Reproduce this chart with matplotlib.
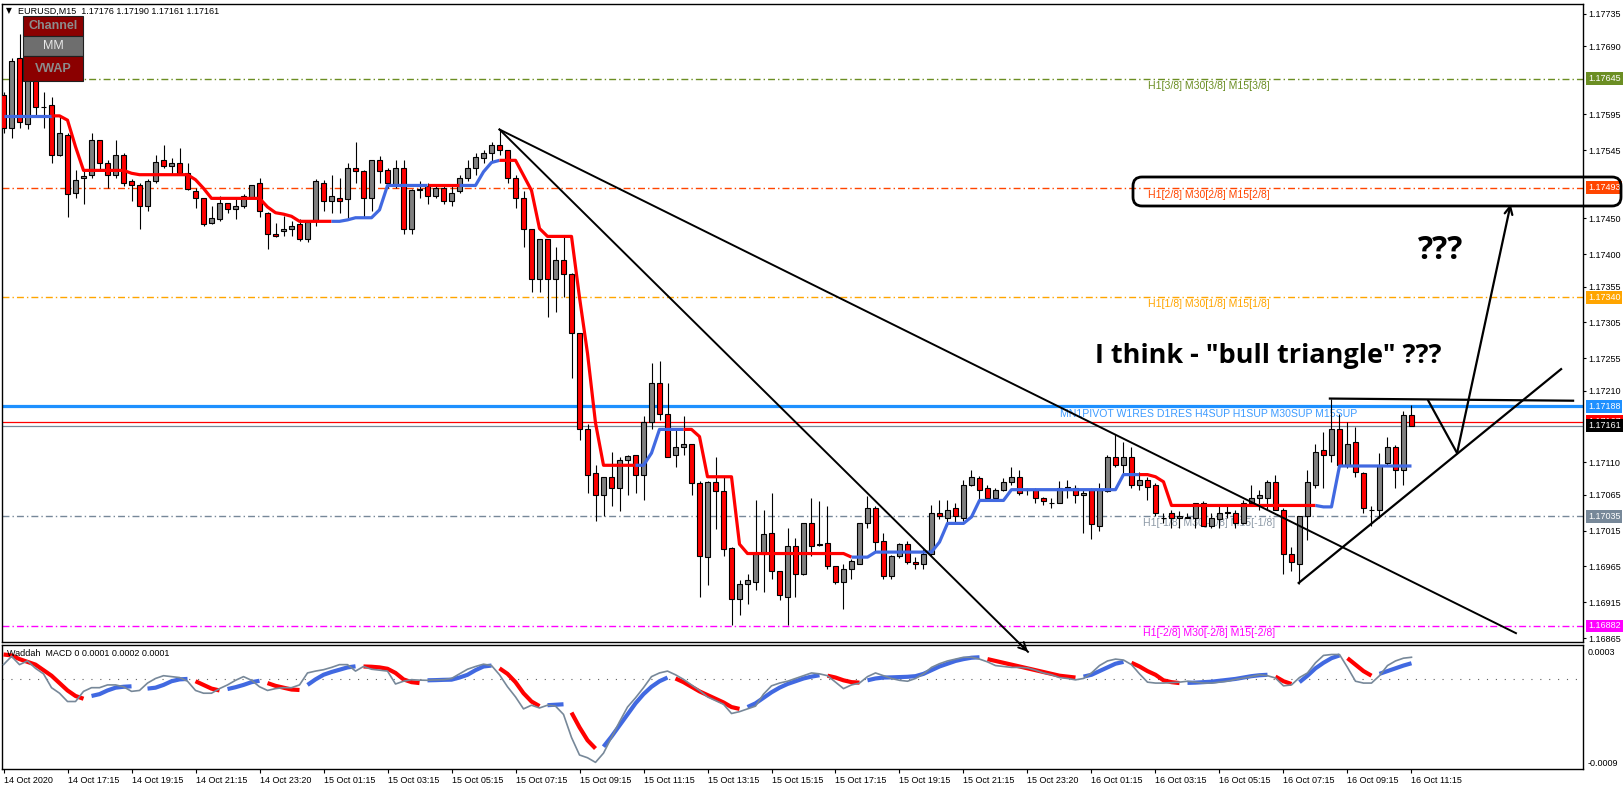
import numpy as np
import matplotlib
matplotlib.use("Agg")
import matplotlib.pyplot as plt
from matplotlib.patches import Rectangle, FancyBboxPatch
from matplotlib.transforms import blended_transform_factory

plt.rcParams['font.family'] = ['Liberation Sans', 'DejaVu Sans']

# EURUSD M15, one bar every 15 min, 14 Oct 15:15 .. 16 Oct 11:15
open_ = [1.17622, 1.17576, 1.17673, 1.17581, 1.17658, 1.17606, 1.17608, 1.17539, 1.17567, 1.17485,
         1.17506, 1.17510, 1.17559, 1.17527, 1.17511, 1.17538, 1.17502, 1.17496, 1.17468, 1.17502,
         1.17531, 1.17523, 1.17527, 1.17513, 1.17488, 1.17478, 1.17443, 1.17449, 1.17471, 1.17463,
         1.17467, 1.17479, 1.17499, 1.17458, 1.17428, 1.17432, 1.17436, 1.17442, 1.17422, 1.17446,
         1.17500, 1.17475, 1.17479, 1.17477, 1.17520, 1.17516, 1.17478, 1.17531, 1.17517, 1.17497,
         1.17520, 1.17435, 1.17491, 1.17495, 1.17481, 1.17492, 1.17475, 1.17488, 1.17507, 1.17520,
         1.17534, 1.17541, 1.17552, 1.17545, 1.17506, 1.17479, 1.17435, 1.17365, 1.17421, 1.17365,
         1.17392, 1.17373, 1.17290, 1.17157, 1.17095, 1.17064, 1.17089, 1.17074, 1.17114, 1.17120,
         1.17092, 1.17167, 1.17220, 1.17177, 1.17120, 1.17132, 1.17135, 1.17081, 1.16978, 1.17082,
         1.17070, 1.16991, 1.16919, 1.16940, 1.16944, 1.16983, 1.17011, 1.16958, 1.16923, 1.16994,
         1.16955, 1.17025, 1.16996, 1.16997, 1.16965, 1.16943, 1.16962, 1.16969, 1.17025, 1.17047,
         1.17001, 1.16951, 1.16979, 1.16996, 1.16971, 1.16969, 1.16983, 1.17040, 1.17033, 1.17046,
         1.17033, 1.17079, 1.17088, 1.17075, 1.17060, 1.17071, 1.17082, 1.17089, 1.17072, 1.17072,
         1.17061, 1.17054, 1.17054, 1.17075, 1.17075, 1.17064, 1.17071, 1.17022, 1.17070, 1.17117,
         1.17106, 1.17117, 1.17078, 1.17086, 1.17078, 1.17033, 1.17040, 1.17032, 1.17033, 1.17033,
         1.17054, 1.17022, 1.17031, 1.17040, 1.17040, 1.17025, 1.17054, 1.17061, 1.17061, 1.17082,
         1.17044, 1.16983, 1.16969, 1.17035, 1.17078, 1.17127, 1.17121, 1.17156, 1.17107, 1.17138,
         1.17095, 1.17043, 1.17043, 1.17109, 1.17131, 1.17100, 1.17176]
high_ = [1.17626, 1.17673, 1.17707, 1.17663, 1.17663, 1.17626, 1.17619, 1.17591, 1.17569, 1.17517,
         1.17516, 1.17569, 1.17560, 1.17531, 1.17559, 1.17541, 1.17505, 1.17499, 1.17505, 1.17538,
         1.17552, 1.17534, 1.17548, 1.17527, 1.17492, 1.17479, 1.17467, 1.17481, 1.17472, 1.17479,
         1.17484, 1.17497, 1.17506, 1.17459, 1.17443, 1.17454, 1.17446, 1.17449, 1.17446, 1.17505,
         1.17503, 1.17511, 1.17506, 1.17527, 1.17556, 1.17517, 1.17532, 1.17537, 1.17520, 1.17532,
         1.17532, 1.17491, 1.17502, 1.17500, 1.17495, 1.17495, 1.17495, 1.17511, 1.17532, 1.17541,
         1.17545, 1.17556, 1.17574, 1.17546, 1.17510, 1.17488, 1.17436, 1.17422, 1.17422, 1.17410,
         1.17426, 1.17374, 1.17291, 1.17164, 1.17106, 1.17090, 1.17124, 1.17117, 1.17121, 1.17121,
         1.17174, 1.17248, 1.17252, 1.17220, 1.17157, 1.17174, 1.17136, 1.17084, 1.17084, 1.17117,
         1.17091, 1.16992, 1.16946, 1.16955, 1.17057, 1.17043, 1.17068, 1.16959, 1.17018, 1.17004,
         1.17026, 1.17060, 1.17056, 1.17049, 1.16966, 1.16968, 1.16976, 1.17026, 1.17063, 1.17049,
         1.17011, 1.16981, 1.16997, 1.17001, 1.16978, 1.16990, 1.17050, 1.17057, 1.17057, 1.17053,
         1.17086, 1.17099, 1.17091, 1.17079, 1.17074, 1.17088, 1.17103, 1.17100, 1.17075, 1.17074,
         1.17062, 1.17061, 1.17084, 1.17085, 1.17079, 1.17071, 1.17075, 1.17081, 1.17121, 1.17150,
         1.17138, 1.17132, 1.17096, 1.17089, 1.17081, 1.17039, 1.17044, 1.17042, 1.17040, 1.17054,
         1.17056, 1.17039, 1.17050, 1.17049, 1.17043, 1.17057, 1.17078, 1.17072, 1.17086, 1.17093,
         1.17046, 1.16992, 1.17036, 1.17100, 1.17135, 1.17152, 1.17198, 1.17177, 1.17167, 1.17159,
         1.17096, 1.17049, 1.17123, 1.17145, 1.17134, 1.17181, 1.17190]
low_ = [1.17569, 1.17562, 1.17576, 1.17574, 1.17594, 1.17576, 1.17527, 1.17537, 1.17452, 1.17478,
        1.17470, 1.17507, 1.17517, 1.17493, 1.17507, 1.17495, 1.17475, 1.17435, 1.17461, 1.17500,
        1.17521, 1.17510, 1.17511, 1.17489, 1.17465, 1.17440, 1.17442, 1.17447, 1.17458, 1.17449,
        1.17464, 1.17478, 1.17452, 1.17407, 1.17424, 1.17425, 1.17426, 1.17418, 1.17417, 1.17440,
        1.17461, 1.17457, 1.17457, 1.17450, 1.17500, 1.17450, 1.17461, 1.17499, 1.17493, 1.17493,
        1.17429, 1.17429, 1.17479, 1.17470, 1.17478, 1.17470, 1.17468, 1.17485, 1.17502, 1.17510,
        1.17527, 1.17530, 1.17538, 1.17499, 1.17464, 1.17410, 1.17348, 1.17348, 1.17312, 1.17320,
        1.17340, 1.17228, 1.17141, 1.17068, 1.17028, 1.17035, 1.17049, 1.17042, 1.17064, 1.17067,
        1.17058, 1.17156, 1.17169, 1.17117, 1.17103, 1.17121, 1.17064, 1.16922, 1.16939, 1.17017,
        1.16979, 1.16884, 1.16897, 1.16913, 1.16932, 1.16930, 1.16948, 1.16918, 1.16884, 1.16922,
        1.16953, 1.16979, 1.16993, 1.16962, 1.16941, 1.16905, 1.16948, 1.16968, 1.17018, 1.16985,
        1.16947, 1.16947, 1.16977, 1.16969, 1.16961, 1.16962, 1.16980, 1.17031, 1.17025, 1.17024,
        1.17029, 1.17077, 1.17057, 1.17056, 1.17056, 1.17070, 1.17079, 1.17065, 1.17064, 1.17054,
        1.17050, 1.17047, 1.17053, 1.17061, 1.17054, 1.17011, 1.17003, 1.17015, 1.17069, 1.17104,
        1.17095, 1.17075, 1.17072, 1.17057, 1.17035, 1.17026, 1.17018, 1.17019, 1.17032, 1.17019,
        1.17021, 1.17018, 1.17018, 1.17032, 1.17018, 1.17024, 1.17051, 1.17044, 1.17043, 1.17043,
        1.16955, 1.16959, 1.16940, 1.17002, 1.17075, 1.17075, 1.17110, 1.17106, 1.17102, 1.17089,
        1.17040, 1.17022, 1.17032, 1.17107, 1.17075, 1.17078, 1.17161]
close_ = [1.17576, 1.17670, 1.17584, 1.17659, 1.17606, 1.17605, 1.17539, 1.17569, 1.17484, 1.17504,
          1.17509, 1.17559, 1.17527, 1.17510, 1.17538, 1.17499, 1.17496, 1.17468, 1.17502, 1.17528,
          1.17523, 1.17527, 1.17513, 1.17491, 1.17478, 1.17442, 1.17450, 1.17472, 1.17463, 1.17467,
          1.17481, 1.17496, 1.17460, 1.17429, 1.17425, 1.17436, 1.17440, 1.17421, 1.17445, 1.17502,
          1.17475, 1.17481, 1.17475, 1.17520, 1.17516, 1.17478, 1.17531, 1.17516, 1.17499, 1.17521,
          1.17435, 1.17489, 1.17490, 1.17481, 1.17492, 1.17475, 1.17486, 1.17507, 1.17520, 1.17535,
          1.17541, 1.17552, 1.17545, 1.17506, 1.17479, 1.17436, 1.17365, 1.17421, 1.17365, 1.17392,
          1.17373, 1.17291, 1.17157, 1.17093, 1.17064, 1.17089, 1.17074, 1.17114, 1.17119, 1.17093,
          1.17167, 1.17221, 1.17177, 1.17118, 1.17131, 1.17135, 1.17081, 1.16979, 1.17082, 1.17070,
          1.16990, 1.16919, 1.16940, 1.16946, 1.16983, 1.17010, 1.16958, 1.16925, 1.16994, 1.16955,
          1.17025, 1.16993, 1.16995, 1.16965, 1.16943, 1.16962, 1.16972, 1.17025, 1.17047, 1.16999,
          1.16951, 1.16980, 1.16996, 1.16971, 1.16968, 1.16983, 1.17040, 1.17035, 1.17044, 1.17035,
          1.17078, 1.17089, 1.17071, 1.17060, 1.17071, 1.17082, 1.17089, 1.17068, 1.17071, 1.17061,
          1.17056, 1.17053, 1.17075, 1.17076, 1.17064, 1.17067, 1.17024, 1.17071, 1.17117, 1.17106,
          1.17117, 1.17078, 1.17086, 1.17076, 1.17040, 1.17032, 1.17032, 1.17035, 1.17034, 1.17053,
          1.17022, 1.17032, 1.17040, 1.17041, 1.17025, 1.17054, 1.17061, 1.17064, 1.17082, 1.17044,
          1.16983, 1.16971, 1.17035, 1.17082, 1.17124, 1.17121, 1.17156, 1.17107, 1.17136, 1.17096,
          1.17046, 1.17044, 1.17107, 1.17131, 1.17100, 1.17176, 1.17161]

# step trend line (value per bar) and its direction: 1 = up (blue), -1 = down (red)
trend_line = [1.17593, 1.17593, 1.17593, 1.17593, 1.17593, 1.17593, 1.17593, 1.17593, 1.17587, 1.17550,
              1.17517, 1.17517, 1.17517, 1.17517, 1.17517, 1.17517, 1.17513, 1.17511, 1.17511, 1.17511,
              1.17511, 1.17511, 1.17511, 1.17511, 1.17504, 1.17492, 1.17478, 1.17478, 1.17478, 1.17478,
              1.17478, 1.17478, 1.17478, 1.17466, 1.17458, 1.17456, 1.17453, 1.17446, 1.17446, 1.17446,
              1.17446, 1.17446, 1.17446, 1.17448, 1.17451, 1.17451, 1.17451, 1.17462, 1.17496, 1.17496,
              1.17496, 1.17496, 1.17496, 1.17496, 1.17496, 1.17496, 1.17496, 1.17496, 1.17496, 1.17496,
              1.17515, 1.17528, 1.17531, 1.17531, 1.17531, 1.17510, 1.17489, 1.17436, 1.17425, 1.17425,
              1.17425, 1.17425, 1.17340, 1.17262, 1.17165, 1.17106, 1.17106, 1.17106, 1.17106, 1.17106,
              1.17106, 1.17123, 1.17156, 1.17156, 1.17156, 1.17156, 1.17156, 1.17146, 1.17090, 1.17090,
              1.17090, 1.17090, 1.16996, 1.16983, 1.16983, 1.16983, 1.16983, 1.16983, 1.16983, 1.16983,
              1.16983, 1.16983, 1.16983, 1.16983, 1.16983, 1.16983, 1.16978, 1.16978, 1.16978, 1.16985,
              1.16985, 1.16985, 1.16985, 1.16985, 1.16985, 1.16985, 1.16985, 1.16999, 1.17025, 1.17025,
              1.17025, 1.17034, 1.17057, 1.17057, 1.17057, 1.17057, 1.17072, 1.17072, 1.17072, 1.17072,
              1.17072, 1.17072, 1.17072, 1.17072, 1.17072, 1.17072, 1.17072, 1.17072, 1.17072, 1.17072,
              1.17093, 1.17093, 1.17093, 1.17093, 1.17090, 1.17083, 1.17050, 1.17050, 1.17050, 1.17050,
              1.17050, 1.17050, 1.17050, 1.17050, 1.17050, 1.17050, 1.17050, 1.17050, 1.17050, 1.17050,
              1.17050, 1.17050, 1.17050, 1.17050, 1.17050, 1.17048, 1.17048, 1.17105, 1.17105, 1.17105,
              1.17105, 1.17105, 1.17105, 1.17105, 1.17105, 1.17105, 1.17105]
trend_dir = [1, 1, 1, 1, 1, 1, 1, -1, -1, -1, -1, -1, -1, -1, -1, -1, -1, -1, -1, -1,
             -1, -1, -1, -1, -1, -1, -1, -1, -1, -1, -1, -1, -1, -1, -1, -1, -1, -1, -1, -1,
             -1, -1, 1, 1, 1, 1, 1, 1, 1, 1, 1, 1, 1, 1, -1, -1, -1, -1, 1, 1,
             1, 1, 1, -1, -1, -1, -1, -1, -1, -1, -1, -1, -1, -1, -1, -1, -1, -1, -1, -1,
             1, 1, 1, 1, 1, 1, -1, -1, -1, -1, -1, -1, -1, -1, -1, -1, -1, -1, -1, -1,
             -1, -1, -1, -1, -1, -1, -1, 1, 1, 1, 1, 1, 1, 1, 1, 1, 1, 1, 1, 1,
             1, 1, 1, 1, 1, 1, 1, 1, 1, 1, 1, 1, 1, 1, 1, 1, 1, 1, 1, 1,
             1, 1, 1, -1, -1, -1, -1, -1, -1, -1, -1, -1, -1, -1, -1, -1, -1, -1, -1, -1,
             -1, -1, -1, -1, -1, 1, 1, 1, 1, 1, 1, 1, 1, 1, 1, 1, 1]

# Waddah MACD, in units of 0.0001
macd_main = [2.7, 2.6, 2.2, 1.9, 1.6, 1.0, 0.4, -0.4, -1.2, -1.8,
             -2.1, -1.8, -1.6, -1.2, -0.9, -0.8, -0.75, -1.05, -1.0, -0.9,
             -0.6, -0.2, 0.0, 0.05, -0.2, -0.6, -1.0, -1.2, -1.05, -0.85,
             -0.6, -0.3, -0.15, -0.4, -0.7, -0.9, -1.1, -1.15, -0.6, 0.0,
             0.5, 0.8, 1.05, 1.3, 1.42, 1.40, 1.37, 1.3, 1.15, 0.7,
             0.0, -0.3, -0.4, -0.1, -0.08, -0.05, -0.03, 0.2, 0.5, 1.0,
             1.4, 1.5, 1.2, 0.6, -0.3, -1.5, -2.4, -2.9, -2.8, -2.75,
             -2.7, -3.6, -5.2, -6.6, -7.5, -7.3, -6.2, -5.0, -3.8, -2.6,
             -1.6, -0.8, -0.2, 0.2, 0.1, -0.3, -0.8, -1.3, -1.7, -2.1,
             -2.5, -3.0, -3.2, -3.0, -2.6, -2.0, -1.4, -0.9, -0.5, -0.2,
             0.1, 0.3, 0.45, 0.4, 0.2, -0.1, -0.3, -0.35, -0.1, 0.1,
             0.2, 0.22, 0.25, 0.28, 0.35, 0.6, 1.0, 1.4, 1.7, 2.0,
             2.2, 2.35, 2.4, 2.2, 2.0, 1.8, 1.6, 1.4, 1.2, 1.0,
             0.8, 0.6, 0.4, 0.3, 0.2, 0.3, 0.5, 0.9, 1.3, 1.7,
             1.9, 1.8, 1.4, 0.9, 0.5, -0.1, -0.3, -0.4, -0.38, -0.35,
             -0.3, -0.25, -0.15, -0.05, 0.05, 0.2, 0.35, 0.45, 0.5, 0.3,
             -0.2, -0.5, -0.3, 0.4, 1.2, 1.8, 2.3, 2.6, 2.3, 1.6,
             0.9, 0.4, 0.6, 0.9, 1.2, 1.5, 1.75]
macd_fast = [1.6, 2.5, 1.6, 2.0, 1.2, 0.6, -0.9, -1.5, -2.4, -2.4,
             -1.3, -0.9, -0.9, -0.6, -0.6, -0.8, -1.3, -1.2, -0.4, 0.1,
             0.4, 0.3, 0.2, -0.2, -1.2, -1.5, -1.5, -1.0, -0.6, -0.1,
             0.3, -0.1, -0.8, -1.2, -1.0, -0.9, -0.9, -0.6, 0.7, 0.9,
             1.05, 1.3, 1.6, 1.6, 0.9, 1.4, 1.1, 1.0, 0.9, -0.5,
             -0.2, -0.03, -0.08, -0.1, -0.05, -0.03, 0.1, 0.6, 1.1, 1.4,
             1.65, 1.5, 0.5, -0.8, -1.9, -3.2, -2.8, -3.1, -2.8, -2.9,
             -3.8, -6.3, -8.2, -8.5, -9.0, -8.0, -6.3, -4.6, -3.0, -2.0,
             -0.9, 0.3, 0.7, 0.9, 0.5, 0.0, -0.6, -1.2, -1.9, -2.3,
             -2.7, -3.7, -3.5, -3.2, -2.9, -1.6, -0.7, -0.4, -0.2, 0.1,
             0.4, 0.7, 0.6, 0.4, -0.3, -1.0, -0.6, -0.4, 0.3, 0.7,
             0.4, 0.1, -0.1, -0.2, 0.1, 0.6, 1.3, 1.7, 2.0, 2.2,
             2.4, 2.4, 2.2, 1.9, 1.5, 1.4, 1.3, 1.3, 1.25, 1.0,
             0.7, 0.5, 0.2, 0.1, -0.05, 0.1, 0.7, 1.5, 2.0, 2.2,
             2.1, 1.6, 0.6, -0.3, -0.4, -0.4, -0.35, -0.3, -0.2, -0.3,
             -0.4, -0.4, -0.3, -0.2, 0.0, 0.15, 0.3, 0.5, 0.4, 0.15,
             -0.7, -0.6, 0.2, 0.7, 1.8, 2.6, 2.7, 2.7, 1.3, -0.2,
             -0.4, -0.4, 0.4, 1.5, 2.0, 2.3, 2.4]

time_labels = ["14 Oct 2020", "14 Oct 17:15", "14 Oct 19:15", "14 Oct 21:15", "14 Oct 23:20",
               "15 Oct 01:15", "15 Oct 03:15", "15 Oct 05:15", "15 Oct 07:15", "15 Oct 09:15",
               "15 Oct 11:15", "15 Oct 13:15", "15 Oct 15:15", "15 Oct 17:15", "15 Oct 19:15",
               "15 Oct 21:15", "15 Oct 23:20", "16 Oct 01:15", "16 Oct 03:15", "16 Oct 05:15",
               "16 Oct 07:15", "16 Oct 09:15", "16 Oct 11:15"]
price_ticks = [1.17735, 1.17690, 1.17595, 1.17545, 1.17450, 1.17400, 1.17355, 1.17305, 1.17255,
               1.17210, 1.17110, 1.17065, 1.17015, 1.16965, 1.16915, 1.16865]

# Murrey math levels
mm_prices = [1.17645, 1.17493, 1.17340, 1.17035, 1.16882]
mm_names = ["H1[3/8] M30[3/8] M15[3/8]", "H1[2/8] M30[2/8] M15[2/8]", "H1[1/8] M30[1/8] M15[1/8]",
            "H1[-1/8] M30[-1/8] M15[-1/8]", "H1[-2/8] M30[-2/8] M15[-2/8]"]
mm_colors = ['#6B8E23', '#FF4500', '#FFA500', '#778899', '#FF00FF']
mm_text_colors = ['#6B8E23', '#FF4500', '#FFA500', '#8E9BA8', '#FF00FF']
pivot_price = 1.17188
pivot_name = "MN1PIVOT W1RES D1RES H4SUP H1SUP M30SUP M15SUP"
ask_price = 1.17167
bid_price = 1.17161

RED = '#FF0000'
BLUE = '#4169E1'
W, H = 1623, 790


def fx(px):
    return px / W


def fy(py):
    return 1 - py / H


fig = plt.figure(figsize=(W / 100, H / 100), dpi=100, facecolor='white')
ax = fig.add_axes([fx(2), fy(642), (1583 - 2) / W, (642 - 4) / H])
ax2 = fig.add_axes([fx(2), fy(769), (1583 - 2) / W, (769 - 645) / H])
ax2.set_facecolor('none')

n = len(open_)
x = np.arange(n)
o = np.array(open_)
h = np.array(high_)
l = np.array(low_)
c = np.array(close_)

for a in (ax, ax2):
    a.set_xlim(-0.19, 197.44)
    for s in a.spines.values():
        s.set_linewidth(1.0)
ax.set_ylim(1.168597, 1.177489)
ax2.set_ylim(-9.72e-4, 3.73e-4)

# levels
for p, col in zip(mm_prices, mm_colors):
    ax.axhline(p, color=col, lw=1.0, ls=(0, (5, 2.2, 1, 2.2)), zorder=1)
ax.axhline(pivot_price, color='#1E90FF', lw=2.3, zorder=1)
ax.axhline(ask_price, color=RED, lw=0.9, zorder=1)
ax.axhline(bid_price, color='#778899', lw=0.9, zorder=1)
for p, name, col in zip(mm_prices, mm_names, mm_text_colors):
    ax.annotate(name, xy=(150.7, p), xytext=(0, -1.5), textcoords='offset points',
                ha='center', va='top', fontsize=7.6, color=col, zorder=2)
ax.annotate(pivot_name, xy=(150.7, pivot_price), xytext=(0, -1.5), textcoords='offset points',
            ha='center', va='top', fontsize=7.6, color='#3D9BFF', zorder=2)

# candles
ax.vlines(x, l, h, color='black', lw=0.8, zorder=3)
bull = c > o
body_h = np.maximum(np.abs(c - o), 0.000004)
ax.bar(x, body_h, bottom=np.minimum(o, c), width=0.58,
       color=np.where(bull, '#808080', RED), edgecolor='black', linewidth=0.8, zorder=4)

# step trend line
tl = np.array(trend_line)
i = 1
while i < n:
    j = i
    while j + 1 < n and trend_dir[j + 1] == trend_dir[i]:
        j += 1
    ax.plot(x[i - 1:j + 1], tl[i - 1:j + 1], color=BLUE if trend_dir[i] == 1 else RED,
            lw=2.3, solid_capstyle='butt', zorder=5)
    i = j + 1

# right price scale
ax.yaxis.tick_right()
ax.set_yticks(price_ticks)
ax.set_yticklabels(['%.5f' % p for p in price_ticks])
ax.tick_params(axis='y', length=2.5, width=0.8, pad=1.5, labelsize=6.5)
ax.tick_params(axis='x', bottom=False, labelbottom=False)

tr = blended_transform_factory(ax.transAxes, ax.transData)
boxes = [(mm_prices[0], mm_colors[0]), (mm_prices[1], mm_colors[1]), (mm_prices[2], mm_colors[2]),
         (pivot_price, '#1E90FF'), (ask_price, RED), (bid_price, 'black'),
         (mm_prices[3], mm_colors[3]), (mm_prices[4], mm_colors[4])]
for k, (p, col) in enumerate(boxes):
    ax.text((1588 - 2) / 1581, p, '%.5f' % p, transform=tr, ha='left', va='center',
            color='white', fontsize=6.5, clip_on=False, zorder=6 + k,
            bbox=dict(boxstyle='square,pad=0.22', fc=col, ec='none'))

# MACD panel
mm = np.array(macd_main) * 1e-4
mf = np.array(macd_fast) * 1e-4
d = np.sign(np.diff(mm))
d = np.concatenate([[d[0]], d])
i = 0
while i < n:
    j = i
    while j + 1 < n and d[j + 1] == d[i]:
        j += 1
    if j > i:
        ax2.plot(x[i:j + 1], mm[i:j + 1], color=BLUE if d[i] > 0 else RED, lw=3.0,
                 solid_capstyle='butt', zorder=3)
    i = j + 1
ax2.plot(x, mf, color='#778899', lw=1.2, zorder=4)
ax2.axhline(0, color='#606060', lw=0.8, ls=(0, (1, 7)), zorder=1)
ax2.yaxis.tick_right()
ax2.set_yticks([0.0003, -0.0009])
ax2.set_yticklabels(['0.0003', '-0.0009'])
ax2.tick_params(axis='y', length=0, pad=3, labelsize=6.5)
ax2.set_xticks(np.arange(0, n, 8))
ax2.set_xticklabels(time_labels, ha='left', fontsize=6.5)
ax2.tick_params(axis='x', length=3, width=0.8, pad=2)
ax2.text(0.003, 0.935, 'Waddah  MACD 0 0.0001 0.0002 0.0001', transform=ax2.transAxes,
         fontsize=6.5, ha='left', va='center')

# header and buttons
fig.text(fx(6), fy(11), '\u25bc', fontsize=5.5, va='center', ha='left', family=['DejaVu Sans'])
fig.text(fx(18), fy(11), 'EURUSD,M15  1.17176 1.17190 1.17161 1.17161', fontsize=6.5,
         va='center', ha='left')
for (y0, y1, fc, tc, label) in [(16, 36, '#8B0000', '#8C8C8C', 'Channel'),
                                (36, 56, '#6E6E6E', '#E8E8E8', 'MM'),
                                (56, 81, '#8B0000', '#8C8C8C', 'VWAP')]:
    fig.add_artist(Rectangle((fx(23), fy(y1)), (83 - 23) / W, (y1 - y0) / H,
                             transform=fig.transFigure, fc=fc, ec='#202020', lw=0.8, zorder=5))
    fig.text(fx(53), fy((y0 + y1) / 2), label, fontsize=9, color=tc, ha='center', va='center',
             fontweight='bold' if label != 'MM' else 'normal', zorder=6)

# hand drawn markup
ax.plot([62, 128.06], [1.17574, 1.16846], color='black', lw=1.4, clip_on=False, zorder=8)
ax.annotate('', xy=(128.06, 1.16846), xytext=(127, 1.16858),
            arrowprops=dict(arrowstyle='->', lw=1.4, color='black', mutation_scale=14,
                            shrinkA=0, shrinkB=0), annotation_clip=False, zorder=8)
ax.plot([62, 189.06], [1.17574, 1.16872], color='black', lw=1.4, clip_on=False, zorder=8)
ax.plot([165.8, 196.2], [1.17199, 1.17196], color='black', lw=1.6, clip_on=False, zorder=8)
ax.plot([161.9, 194.7], [1.16942, 1.17240], color='black', lw=1.6, clip_on=False, zorder=8)
ax.plot([178.1, 181.7], [1.17196, 1.17123], color='black', lw=1.6, clip_on=False, zorder=8)
ax.annotate('', xy=(188.4, 1.17470), xytext=(181.7, 1.17123),
            arrowprops=dict(arrowstyle='->', lw=1.6, color='black', mutation_scale=14,
                            shrinkA=0, shrinkB=0), annotation_clip=False, zorder=8)
ax.text(179.6, 1.17405, '???', fontsize=23, fontweight='bold', family=['Open Sans', 'DejaVu Sans'],
        ha='center', va='center', zorder=8)
ax.text(158.1, 1.17258, 'I think - "bull triangle" ???', fontsize=19.5, fontweight='bold',
        family=['Open Sans', 'DejaVu Sans'], ha='center', va='center', zorder=8)
fig.add_artist(FancyBboxPatch((11.33, (H - 206) / 100), (1621 - 1133) / 100, (206 - 177) / 100,
                              boxstyle='round,pad=0,rounding_size=0.09',
                              transform=fig.dpi_scale_trans, fill=False, ec='black', lw=2.0,
                              zorder=9))

fig.savefig('out.png', dpi=100, facecolor='white')
